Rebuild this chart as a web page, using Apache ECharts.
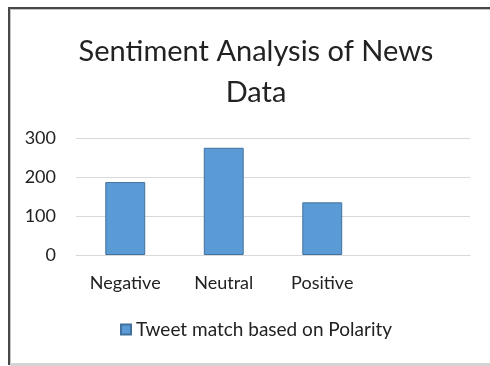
<!DOCTYPE html>
<html>
<head>
<meta charset="utf-8">
<script src="https://cdn.jsdelivr.net/npm/echarts@6/dist/echarts.min.js"></script>
<style>
  html, body { margin: 0; padding: 0; background: #fff; }
  #wrap { position: relative; width: 490px; height: 366px; overflow: hidden; }
  #frame {
    position: absolute; left: 8px; top: 7px; width: 520px; height: 356px;
    border-left: 2px solid #474747; border-top: 2px solid #474747;
    box-shadow: inset 1px 1px 0 #c4c4c4;
  }
  #base { position: absolute; left: 10px; top: 363px; width: 480px; height: 3px; background: #d4d4d4; }
  #chart { position: absolute; left: 0; top: 0; width: 490px; height: 366px; }
</style>
</head>
<body>
<div id="wrap">
  <div id="frame"></div>
  <div id="base"></div>
  <div id="chart"></div>
</div>
<script>
// Sentiment counts per polarity class
const categories = ['Negative', 'Neutral', 'Positive', ''];
const tweetMatch = [187, 275, 135, null];
const seriesName = 'Tweet match based on Polarity';
const titleText = 'Sentiment Analysis of News\nData';
const yMin = 0, yMax = 300, yStep = 100;

const FONT = 'Lato';
const TEXT = '#222222';

const chart = echarts.init(document.getElementById('chart'), null, { renderer: 'canvas' });
chart.setOption({
  animation: false,
  title: {
    text: titleText,
    left: 251,
    top: 26,
    textAlign: 'center',
    textStyle: { fontFamily: FONT, fontSize: 29, fontWeight: 'normal', color: TEXT, lineHeight: 41 }
  },
  legend: {
    data: [seriesName],
    bottom: 22,
    left: 115,
    icon: 'rect',
    itemWidth: 10,
    itemHeight: 10,
    itemGap: 6,
    textStyle: { fontFamily: FONT, fontSize: 19, color: TEXT }
  },
  grid: { left: 76, right: 20, top: 138, height: 117, containLabel: false },
  xAxis: {
    type: 'category',
    data: categories,
    axisLine: { lineStyle: { color: '#d9d9d9', width: 1 } },
    axisTick: { show: false },
    axisLabel: { fontFamily: FONT, fontSize: 18, color: TEXT, margin: 19, interval: 0 }
  },
  yAxis: {
    type: 'value',
    min: yMin, max: yMax, interval: yStep,
    axisLine: { show: false },
    axisTick: { show: false },
    splitLine: { lineStyle: { color: '#d9d9d9', width: 1 } },
    axisLabel: { fontFamily: FONT, fontSize: 18, color: TEXT, margin: 20 }
  },
  series: [{
    name: seriesName,
    type: 'bar',
    data: tweetMatch,
    barWidth: '40.5%',
    itemStyle: { color: '#5b9bd5', borderColor: '#41719c', borderWidth: 1 }
  }]
});
</script>
</body>
</html>
